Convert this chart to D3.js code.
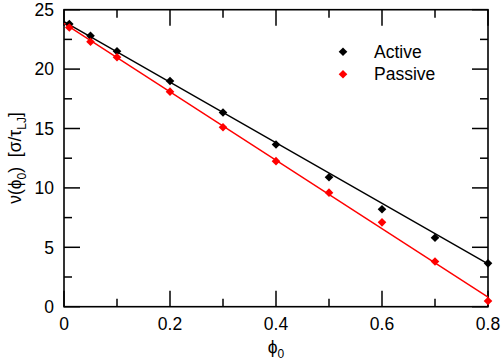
<!DOCTYPE html>
<html>
<head>
<meta charset="utf-8">
<script src="https://cdn.jsdelivr.net/npm/d3@7"></script>
<style>
  body { margin: 0; background: #fff; }
  text { font-family: "Liberation Sans", Arial, sans-serif; }
</style>
</head>
<body>
<svg id="chart" width="504" height="364"></svg>
<script>
// data
const phi = [0.01, 0.05, 0.1, 0.2, 0.3, 0.4, 0.5, 0.6, 0.7, 0.8];
const activeV = [23.8, 22.8, 21.5, 19.0, 16.35, 13.65, 10.9, 8.2, 5.8, 3.65];
const passiveV = [23.5, 22.3, 21.0, 18.1, 15.1, 12.25, 9.6, 7.1, 3.8, 0.48];
const fitX = [0, 0.8];
const activeFit = [24.0, 3.6];
const passiveFit = [23.85, 0.8];
const xTicks = [0, 0.2, 0.4, 0.6, 0.8];
const yTicks = [0, 5, 10, 15, 20, 25];

const series = [
  {name: "Active", values: activeV, fit: activeFit, color: "#000"},
  {name: "Passive", values: passiveV, fit: passiveFit, color: "#ff0000"}
];

const margin = {top: 9.7, right: 16, bottom: 57.3, left: 64};
const width = 504, height = 364;
const svg = d3.select("#chart");

const x = d3.scaleLinear().domain([0, 0.8]).range([margin.left, width - margin.right]);
const y = d3.scaleLinear().domain([0, 25]).range([height - margin.bottom, margin.top]);

const majorLen = 16, minorLen = 8;
const g = svg.append("g");

// ticks (inward, all four sides)
const xMinor = d3.range(0.1, 0.8, 0.2);
const yMinor = d3.range(2.5, 25, 5);
function tickLines(vals, len) {
  vals.forEach(v => {
    g.append("line").attr("x1", x(v)).attr("x2", x(v))
      .attr("y1", y(0)).attr("y2", y(0) - len);
    g.append("line").attr("x1", x(v)).attr("x2", x(v))
      .attr("y1", y(25)).attr("y2", y(25) + len);
  });
}
function tickLinesY(vals, len) {
  vals.forEach(v => {
    g.append("line").attr("y1", y(v)).attr("y2", y(v))
      .attr("x1", x(0)).attr("x2", x(0) + len);
    g.append("line").attr("y1", y(v)).attr("y2", y(v))
      .attr("x1", x(0.8)).attr("x2", x(0.8) - len);
  });
}
tickLines(xTicks, majorLen);
tickLines(xMinor, minorLen);
tickLinesY(yTicks, majorLen);
tickLinesY(yMinor, minorLen);
g.selectAll("line").attr("stroke", "#000").attr("stroke-width", 1.5);

// frame
svg.append("rect")
  .attr("x", x(0)).attr("y", y(25))
  .attr("width", x(0.8) - x(0)).attr("height", y(0) - y(25))
  .attr("fill", "none").attr("stroke", "#000").attr("stroke-width", 1.6);

// tick labels
svg.selectAll(".xl").data(xTicks).join("text")
  .attr("x", d => x(d)).attr("y", y(0) + 23.5)
  .attr("text-anchor", "middle").attr("font-size", 17.5)
  .text(d => d3.format("")(d));
svg.selectAll(".yl").data(yTicks).join("text")
  .attr("x", x(0) - 10).attr("y", d => y(d) + 6.3)
  .attr("text-anchor", "end").attr("font-size", 17.5)
  .text(d => d);

// fit lines
const line = d3.line().x(d => x(d[0])).y(d => y(d[1]));
series.forEach(s => {
  svg.append("path")
    .attr("d", line(fitX.map((v, i) => [v, s.fit[i]])))
    .attr("fill", "none").attr("stroke", s.color).attr("stroke-width", 1.4);
});

// diamond markers
const dm = 4.3;
const diamond = `M0,${-dm}L${dm},0L0,${dm}L${-dm},0Z`;
series.forEach(s => {
  svg.selectAll(null).data(phi.map((p, i) => [p, s.values[i]])).join("path")
    .attr("d", diamond)
    .attr("transform", d => `translate(${x(d[0])},${y(d[1])})`)
    .attr("fill", s.color);
});

// legend
series.forEach((s, i) => {
  const ly = 51.7 + i * 22.5;
  svg.append("path").attr("d", diamond)
    .attr("transform", `translate(343,${ly})`).attr("fill", s.color);
  svg.append("text").attr("x", 374).attr("y", ly + 6.2)
    .attr("font-size", 17.5).text(s.name);
});

// axis titles
const xt = svg.append("text").attr("x", (x(0) + x(0.8)) / 2).attr("y", 353)
  .attr("text-anchor", "middle").attr("font-size", 17.5);
xt.append("tspan").text("\u03d5");
xt.append("tspan").attr("font-size", 12).attr("dy", 5).text("0");

const yt = svg.append("text")
  .attr("transform", "translate(21,158) rotate(-90)")
  .attr("text-anchor", "middle").attr("font-size", 17.5);
yt.append("tspan").text("\u03bd(\u03d5");
yt.append("tspan").attr("font-size", 12).attr("dy", 5).text("0");
yt.append("tspan").attr("dy", -5).text(")\u00a0\u00a0[\u03c3/\u03c4");
yt.append("tspan").attr("font-size", 12).attr("dy", 5).text("LJ");
yt.append("tspan").attr("dy", -5).text("]");
</script>
</body>
</html>
